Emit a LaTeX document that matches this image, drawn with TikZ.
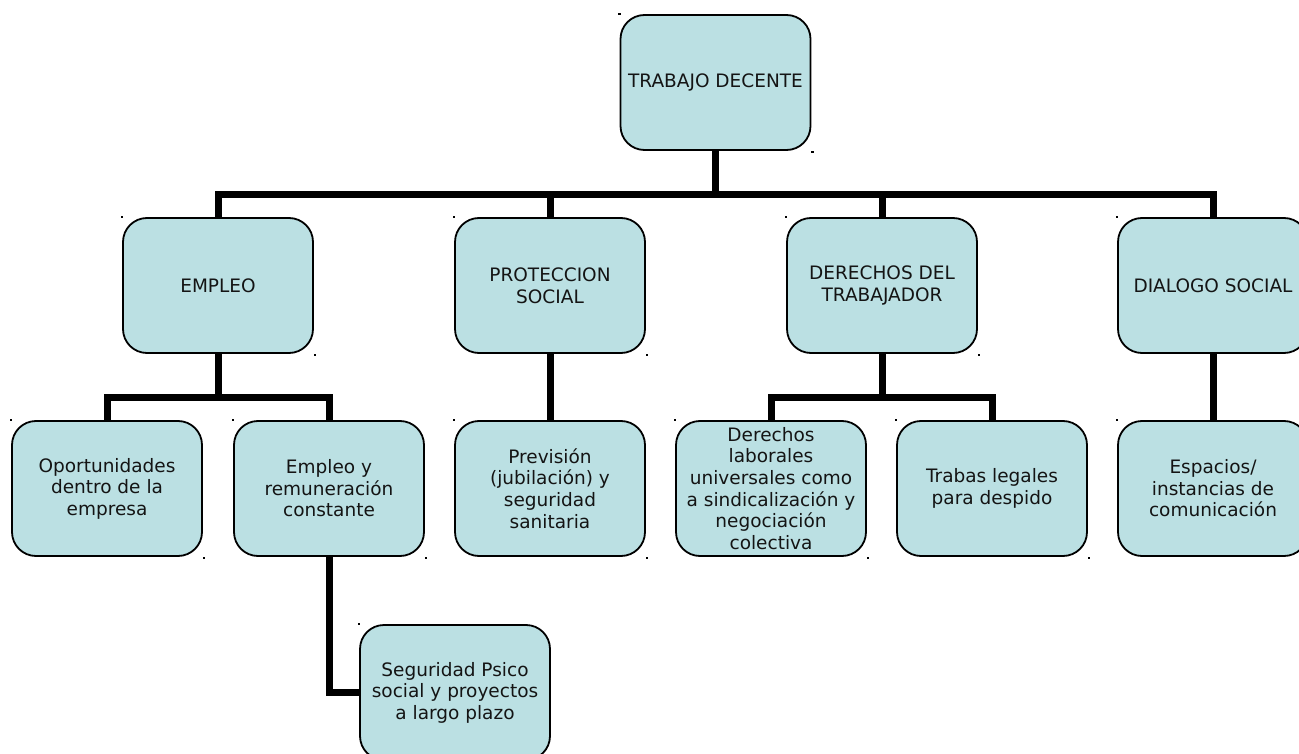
\documentclass[tikz,border=0pt]{standalone}
\usepackage{fontspec}
\setmainfont{DejaVu Sans}
\definecolor{boxfill}{HTML}{BBE0E3}
\definecolor{boxtext}{HTML}{141414}
\begin{document}
\begin{tikzpicture}[x=1pt,y=-1pt,
  box/.style={draw=black, line width=1.8pt, fill=boxfill, rounded corners=24pt,
    minimum width=190pt, minimum height=135pt, inner sep=2pt, align=center,
    text=boxtext, font=\fontsize{18.5}{21.6}\selectfont},
  link/.style={draw=black, line width=7pt, line join=miter},
  handle/.style={fill=black}]
\useasboundingbox[fill=white] (0,0) rectangle (1299,754);

% top level
\node[box] (td)  at (715.5,82.5) {TRABAJO DECENTE};

% second level
\node[box] (emp) at (218,285.5)  {EMPLEO};
\node[box] (pro) at (550,285.5)  {PROTECCION\\SOCIAL};
\node[box] (der) at (882,285.5)  {DERECHOS DEL\\TRABAJADOR};
\node[box] (dia) at (1213,285.5) {DIALOGO SOCIAL};

% third level
\node[box] (opo) at (107,488.5)  {Oportunidades\\dentro de la\\empresa};
\node[box] (rem) at (329,488.5)  {Empleo y\\remuneración\\constante};
\node[box] (pre) at (550,488.5)  {Previsión\\(jubilación) y\\seguridad\\sanitaria};
\node[box] (lab) at (771,488.5)  {Derechos\\laborales\\universales como\\a sindicalización y\\negociación\\colectiva};
\node[box] (tra) at (992,488.5)  {Trabas legales\\para despido};
\node[box] (esp) at (1213,488.5) {Espacios/\\instancias de\\comunicación};

% fourth level
\node[box] (seg) at (455,692.5)  {Seguridad Psico\\social y proyectos\\a largo plazo};

% connectors
\draw[link] (td.south) -- ++(0,45);
\draw[link] (emp.north) -- ++(0,-23) -| (dia.north);
\draw[link] (pro.north) -- ++(0,-23);
\draw[link] (der.north) -- ++(0,-23);

\draw[link] (emp.south) -- ++(0,45);
\draw[link] (opo.north) -- ++(0,-23) -| (rem.north);
\draw[link] (pro.south) -- (pre.north);
\draw[link] (der.south) -- ++(0,45);
\draw[link] (lab.north) -- ++(0,-23) -| (tra.north);
\draw[link] (dia.south) -- (esp.north);
\draw[link] (rem.south) |- (seg.west);

% small corner handles
\foreach \n in {td,emp,pro,der,dia,opo,rem,pre,lab,tra,esp,seg}{
  \fill[handle] ([shift={(-1.5,-1.5)}]\n.north west) rectangle ++(2.5,2);
  \fill[handle] ([shift={(0,0)}]\n.south east) rectangle ++(2.5,2);
}
\end{tikzpicture}
\end{document}
